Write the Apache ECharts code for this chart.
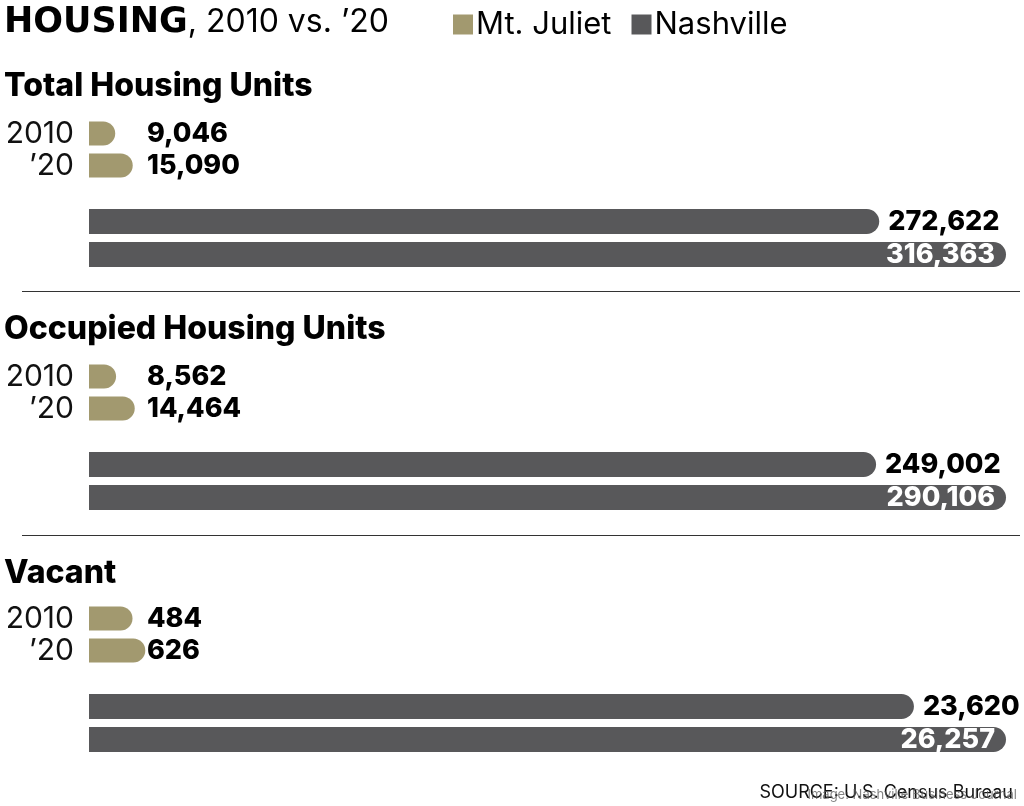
<!DOCTYPE html>
<html>
<head>
<meta charset="utf-8">
<script src="https://cdn.jsdelivr.net/npm/echarts@6/dist/echarts.min.js"></script>
<style>
html,body{margin:0;padding:0;background:#fff;}
#chart{width:1024px;height:806px;}
</style>
</head>
<body>
<div id="chart"></div>
<script>
// ---- data ----
const years = ['2010', '’20'];
const panels = ['Total Housing Units', 'Occupied Housing Units', 'Vacant'];
const mtJuliet = [
  [9046, 15090],
  [8562, 14464],
  [484, 626]
];
const nashville = [
  [272622, 316363],
  [249002, 290106],
  [23620, 26257]
];
// Vacant Mt. Juliet bars are drawn on their own enlarged scale in the original graphic
const vacantMtJulietScaleMax = 10200;

const C_MJ = '#a2996f';
const C_NA = '#58585a';
const FONT = 'Inter, "Noto Sans", sans-serif';

const panelOffset = [0, 243, 485];
const headerOffset = [0, 243, 487];
const fmt = v => v.toLocaleString('en-US');

const grids = [], xAxes = [], yAxes = [], series = [], titles = [], graphics = [];

panels.forEach((name, p) => {
  const off = panelOffset[p];
  const pMax = Math.max(...nashville[p]);
  grids.push({ left: 89, right: 18, top: 117.5 + off, height: 64 });
  grids.push({ left: 89, right: 18, top: 205 + off, height: 66 });
  const gMJ = p * 2, gNA = p * 2 + 1;

  xAxes.push({ gridIndex: gMJ, type: 'value', min: 0, max: p === 2 ? vacantMtJulietScaleMax : pMax, show: false });
  xAxes.push({ gridIndex: gNA, type: 'value', min: 0, max: pMax, show: false });

  yAxes.push({
    gridIndex: gMJ, type: 'category', data: years, inverse: true,
    axisLine: { show: false }, axisTick: { show: false }, splitLine: { show: false },
    axisLabel: { show: true, interval: 0, margin: 15, color: '#111', fontSize: 30, fontFamily: FONT, fontWeight: 400 }
  });
  yAxes.push({
    gridIndex: gNA, type: 'category', data: years, inverse: true,
    axisLine: { show: false }, axisTick: { show: false }, splitLine: { show: false },
    axisLabel: { show: false }
  });

  series.push({
    type: 'bar', name: 'Mt. Juliet', xAxisIndex: gMJ, yAxisIndex: gMJ,
    data: mtJuliet[p], barWidth: 24,
    itemStyle: { color: C_MJ, borderRadius: [0, 12, 12, 0] },
    label: {
      show: true, position: [58, '50%'], verticalAlign: 'middle', align: 'left',
      formatter: d => fmt(d.value),
      color: '#000', fontSize: 27, fontWeight: 800, fontFamily: FONT
    },
    silent: true, animation: false
  });

  series.push({
    type: 'bar', name: 'Nashville', xAxisIndex: gNA, yAxisIndex: gNA,
    data: nashville[p].map((v, i) => ({
      value: v,
      label: i === 0
        ? { position: 'right', distance: 9, color: '#000' }
        : { position: 'insideRight', distance: 11, color: '#fff' }
    })),
    barWidth: 25,
    itemStyle: { color: C_NA, borderRadius: [0, 12.5, 12.5, 0] },
    label: {
      show: true, formatter: d => fmt(d.value),
      fontSize: 27, fontWeight: 800, fontFamily: FONT
    },
    silent: true, animation: false
  });

  titles.push({
    text: name, left: -1, top: 65 + headerOffset[p],
    textStyle: { fontSize: 32, fontWeight: 800, color: '#000', fontFamily: FONT }
  });

  if (p > 0) {
    graphics.push({
      type: 'line', shape: { x1: 22, y1: 291.5 + (p - 1) * 244, x2: 1020, y2: 291.5 + (p - 1) * 244 },
      style: { stroke: '#333', lineWidth: 1 }, silent: true
    });
  }
});

titles.unshift({
  text: '{a|HOUSING}{b|, 2010 vs. ’20}', left: -1, top: 0,
  textStyle: {
    rich: {
      a: { fontSize: 35, fontWeight: 'bold', color: '#000', fontFamily: '"DejaVu Sans", Inter, sans-serif' },
      b: { fontSize: 32, fontWeight: 400, color: '#000', fontFamily: FONT }
    }
  }
});

graphics.push({
  type: 'text', right: 11, top: 784,
  style: { text: 'SOURCE: U.S. Census Bureau', fill: '#111', font: '400 18px ' + FONT }
});
graphics.push({
  type: 'text', right: 7, top: 789,
  style: { text: 'Image: Nashville Business Journal', fill: 'rgba(90,90,90,0.75)', font: '400 13px ' + FONT }
});

const chart = echarts.init(document.getElementById('chart'), null, { renderer: 'canvas' });
chart.setOption({
  backgroundColor: '#fff',
  animation: false,
  title: titles,
  legend: {
    left: 448, top: 4, itemWidth: 20, itemHeight: 20, itemGap: 20,
    icon: 'rect', selectedMode: false,
    data: [{ name: 'Mt. Juliet', itemStyle: { color: C_MJ } }, { name: 'Nashville', itemStyle: { color: C_NA } }],
    textStyle: { fontSize: 31, color: '#000', fontFamily: FONT, padding: [0, 0, 0, -2] }
  },
  grid: grids,
  xAxis: xAxes,
  yAxis: yAxes,
  series: series,
  graphic: graphics
});
</script>
</body>
</html>
